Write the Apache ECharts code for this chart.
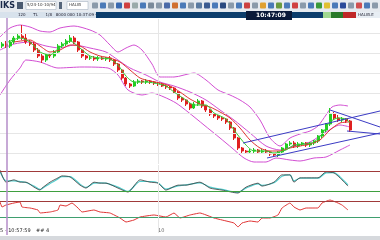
<!DOCTYPE html>
<html><head><meta charset="utf-8">
<script src="https://cdn.jsdelivr.net/npm/echarts/dist/echarts.min.js"></script>
<style>html,body{margin:0;padding:0;background:#fff}#c{width:380px;height:240px}</style>
</head><body><div id="c"></div>
<script>
// ---- data ----
const slotCount = 95;
const openP  = [124,126,124,128,132,134,132,128,126,120,114,110,115,114,118,124,126,129,132,128,120,114,112,112,111,112,111,112,110,106,100,92,86,84,88,89,88,89,88,87,86,84,83,82,78,72,70,66,62,66,69,64,60,56,54,52,51,48,42,32,22,19,18,19,20,18,19,18,16,15,18,22,26,27,24,26,27,25,27,29,34,40,46,56,52,50,51,49];
const closeP = [126,124,128,132,134,132,128,126,120,114,110,115,114,118,124,126,129,132,128,120,114,112,112,111,112,111,112,110,106,100,92,86,84,88,89,88,89,88,87,86,84,83,82,78,72,70,66,62,66,69,64,60,56,54,52,51,48,42,32,22,19,18,19,20,18,19,18,16,15,18,22,26,27,24,26,27,25,27,29,34,40,46,56,52,50,51,49,40];
const lowP   = [122,122,122,126,130,130,126,124,118,112,107,108,112,112,116,122,124,127,126,118,112,110,110,109,109,110,109,108,104,98,90,84,82,83,86,86,86,86,85,84,83,81,80,76,70,68,64,60,61,64,62,58,54,52,50,49,46,40,30,20,17,16,16,17,16,16,16,14,13,13,16,20,24,22,22,24,23,23,25,27,32,38,44,50,48,48,47,38];
const highP  = [128,129,130,134,137,145,136,130,128,122,116,117,117,120,126,128,131,135,134,129,121,115,114,114,114,114,113,114,111,107,101,93,87,90,91,90,91,90,89,88,87,85,84,83,79,73,71,67,68,71,70,65,61,57,55,53,52,49,43,33,23,20,21,22,21,21,21,19,17,19,23,27,29,29,28,28,28,28,30,35,41,47,62,58,55,53,52,50];

const upperBand = [[-0.5,133],[2,142],[4.5,145],[7,143],[9.5,139],[12,138],[14.5,142],[18,144],[22,140],[24.5,135],[27,125],[29,118],[31,122],[33,125],[35,120],[37.5,106],[39.5,93],[43,93],[48,97],[51,90],[54,80],[57,75],[59.5,70],[62,63],[64.5,50],[67,32],[69.5,24],[72,32],[74.5,36],[77,39],[79,44],[81,55],[82.5,63],[84.5,65],[86.5,64]];
const middleBand = [[-0.5,120],[3,126],[7,128],[11,124],[14.5,122],[18,125],[22,122],[26,118],[29,110],[32,102],[36,95],[39.5,88],[43,84],[47,78],[51,70],[54.5,60],[58,50],[62,37],[66,24],[69.5,20],[73,24],[77,28],[81,38],[84.5,45],[87,43]];
const lowerBand = [[-0.5,75],[2,90],[4.5,102],[6,110],[9.5,108],[14,102],[20,103],[26.5,102],[29,95],[31.5,80],[35,75],[37.5,77],[40.5,73],[43.5,67],[46.5,58],[50.5,45],[54.5,32],[57.5,22],[60.5,12],[63,8],[66,8],[68.5,12],[72,10],[74.5,9],[78,12],[81,13],[84.5,20],[87,25]];
const maFast = [[1.5,128],[4.5,132],[7,128],[9.5,118],[12,115],[14.5,123],[17,129],[19.5,122],[22,114],[24.5,112],[27,111],[29,105],[31,94],[33,88],[36,88],[38,87],[41,84],[43,78],[46,70],[48,65],[51,65],[53,57],[56,51],[58,40],[61,25],[63,19],[66,19],[68,17],[71,20],[73,25],[76,26],[78,28],[80,36],[82,48],[84,52],[86,51],[87,47]];
const maSlow = [[3,128],[7,130],[9.5,124],[12,118],[14.5,120],[17,125],[19.5,124],[22,118],[24.5,114],[27,112],[29.5,108],[32,100],[34.5,92],[37,89],[39.5,87],[42,84],[44.5,78],[47,71],[49.5,66],[52,63],[54.5,58],[57,52],[59.5,42],[62,30],[64.5,22],[67,19],[69.5,19],[72,22],[74.5,24],[77,26],[79.5,30],[82,40],[84.5,47],[87,48]];
const trendLines = [
  [[60.25,27],[94.5,59]],
  [[66.25,12],[94.5,37]],
  [[82,60],[94.5,43]],
  [[86.25,39],[94.5,36]]
];
const priceGridLevels = [137,117,97,77,57,37,17];
const timeGridIndex = 39;

const osc1Main = [[-0.5,85],[1,48],[3,55],[4.5,48],[6,48],[8,33],[9.5,24],[10,30],[12,48],[14,61],[15,67],[17,64],[19.5,39],[21,30],[23,48],[24.5,45],[26,45],[29,30],[31.5,18],[34.5,55],[37,48],[39,45],[41,24],[44,39],[46,39],[49.5,48],[52,30],[55,24],[59,15],[61,33],[64,45],[65,36],[68,48],[70,70],[72,70],[73,48],[74.5,61],[79,61],[81,79],[83,76],[84.5,61],[86.5,36]];
const osc1Signal = [[-0.5,80],[1,52],[3,52],[4.5,50],[6,47],[8,36],[9.5,26],[10,28],[12,44],[14,58],[15,65],[17,65],[19.5,42],[21,32],[23,45],[24.5,46],[26,45],[29,33],[31.5,20],[34.5,50],[37,50],[39,46],[41,27],[44,37],[46,40],[49.5,46],[52,33],[55,26],[59,17],[61,30],[64,43],[65,38],[68,46],[70,66],[72,70],[73,52],[74.5,60],[79,60],[81,76],[83,77],[84.5,64],[86.5,40]];
const osc1Levels = [80,20];
const osc2Line = [[-0.5,77.5],[0,65],[1,70],[3,75],[4.5,77.5],[5,65],[7,62.5],[9,57.5],[9.5,50],[12,52.5],[14,57.5],[14.5,70],[16,67.5],[17.5,75],[19,62.5],[20,52.5],[23,57.5],[24.5,52.5],[27,50],[29.5,37.5],[31,27.5],[33,32.5],[34.5,40],[38,45],[41,40],[43,50],[44.5,37.5],[47,45],[49.5,50],[53,37.5],[55,32.5],[58,25],[59,15],[60,25],[62,30],[64,27.5],[65,37.5],[67,37.5],[69,45],[70,62.5],[72,75],[73,65],[74.5,57.5],[76,62.5],[79,62.5],[80,75],[82,82.5],[84,75],[85,70],[86.5,57.5]];
const osc2Levels = [80,40];

const bottomLabels = ['5 - 10:57:59', '## 4', '10'];

// ---- chart ----
const candles = openP.map((o,i)=>[o, closeP[i], lowP[i], highP[i]]);
const cats = Array.from({length: slotCount}, (_, i) => String(i));
const chart = echarts.init(document.getElementById('c'), null, {renderer:'canvas'});

function lineS(data, color, xi, yi, extra){
  return Object.assign({type:'line', data, xAxisIndex:xi, yAxisIndex:yi, symbol:'none', smooth:0.25,
    lineStyle:{color, width:1}, silent:true, z:3}, extra||{});
}
const vx = (gi)=>({type:'value', gridIndex:gi, min:-0.5, max:slotCount-0.5, show:false});

const series = [
  {type:'line', data:[], xAxisIndex:1, yAxisIndex:0, silent:true, z:1,
   markLine:{silent:true, symbol:['none','none'], label:{show:false}, animation:false,
     lineStyle:{color:'#e6e6e6', width:1, type:'solid'},
     data: priceGridLevels.map(v=>({yAxis:v})).concat([{xAxis:timeGridIndex}])}},
  lineS(upperBand, '#d24fd2', 1, 0),
  lineS(middleBand, '#d24fd2', 1, 0),
  lineS(lowerBand, '#d24fd2', 1, 0),
  {type:'candlestick', data:candles, xAxisIndex:0, yAxisIndex:0, barWidth:2.5, z:4,
   itemStyle:{color:'#22cc22', color0:'#e02020', borderColor:'#22cc22', borderColor0:'#e02020', borderWidth:1}},
  lineS(maSlow, '#e03030', 1, 0, {z:5}),
  lineS(maFast, '#33cc33', 1, 0, {z:5}),
];
trendLines.forEach(t=>series.push(lineS(t, '#3b3bc4', 1, 0, {smooth:false, z:6})));

series.push(lineS(osc1Signal, '#55d0d0', 2, 1, {lineStyle:{color:'#55d0d0', width:1.2},
  markLine:{silent:true, symbol:['none','none'], label:{show:false}, animation:false,
    data:[{yAxis:osc1Levels[0], lineStyle:{color:'#a03a3a', width:1, type:'solid'}},
          {yAxis:osc1Levels[1], lineStyle:{color:'#3f9f3f', width:1, type:'solid'}},
          {xAxis:timeGridIndex, lineStyle:{color:'#e6e6e6', width:1, type:'solid'}}]}}));
series.push(lineS(osc1Main, '#3a3a3a', 2, 1, {smooth:0.2, lineStyle:{color:'#3a3a3a', width:0.8}}));
series.push(lineS(osc2Line, '#e03535', 3, 2, {smooth:0.1,
  markLine:{silent:true, symbol:['none','none'], label:{show:false}, animation:false,
    data:[{yAxis:osc2Levels[0], lineStyle:{color:'#a03a3a', width:1, type:'solid'}},
          {yAxis:osc2Levels[1], lineStyle:{color:'#3f9f6f', width:1, type:'solid'}},
          {xAxis:timeGridIndex, lineStyle:{color:'#e6e6e6', width:1, type:'solid'}}]}}));

// toolbar decoration
const iconColors = ['#8a9aaa','#4a7ab8','#8a9aaa','#3a6ab0','#d04040','#9aa','#4a7ab8','#7a8a9a','#8a9aaa','#4a6aa8','#d07030','#4a7ab8','#8a9aaa','#5a7aa0','#3a5a90','#4a7ab8','#2a4a80','#8a9aaa','#4a7ab8','#cc4040','#8a9aaa','#e0a030','#4a7ab8','#6a9a40','#4a7ab8','#d04040','#8a9aaa','#4a7ab8','#3a9a3a','#e0c030','#4a7ab8','#2a4a9a','#8a9aaa','#d05050','#4a7ab8','#8a9aaa'];
const graphics = [
  {type:'rect', shape:{x:0,y:0,width:380,height:12}, style:{fill:'#e6eaef'}, silent:true},
  {type:'text', x:0, y:2, style:{text:'IKS', fill:'#1a2a4a', font:'bold 8px "DejaVu Sans"'}},
  {type:'rect', shape:{x:17,y:2,width:6,height:7}, style:{fill:'#4a5a70'}},
  {type:'rect', shape:{x:26,y:1.5,width:30,height:8}, style:{fill:'#fff', stroke:'#9aa8b8', lineWidth:0.5}},
  {type:'text', x:27, y:3, style:{text:'5/24-10-10/94', fill:'#333', font:'4px "DejaVu Sans"'}},
  {type:'rect', shape:{x:59,y:2,width:3,height:7}, style:{fill:'#55657a'}},
  {type:'rect', shape:{x:67,y:1.5,width:21,height:8}, style:{fill:'#fff', stroke:'#9aa8b8', lineWidth:0.5}},
  {type:'text', x:69, y:3, style:{text:'HALIB', fill:'#333', font:'4px "DejaVu Sans"'}},
  {type:'rect', shape:{x:0,y:12,width:96,height:6}, style:{fill:'#d8e2ec'}},
  {type:'text', x:18, y:12.5, style:{text:'120      TL      1/8   8000 000 10:37:09 ▾', fill:'#223', font:'4px "DejaVu Sans"'}},
  {type:'rect', shape:{x:96,y:12,width:284,height:6}, style:{fill:'#0c3d6c'}},
  {type:'rect', shape:{x:246,y:11,width:46,height:9}, style:{fill:'#0a1a3a'}},
  {type:'text', x:256, y:12, style:{text:'10:47:09', fill:'#fff', font:'bold 6px "DejaVu Sans"'}},
  {type:'rect', shape:{x:323,y:12,width:8,height:6}, style:{fill:'#a0d890'}},
  {type:'rect', shape:{x:331,y:12,width:12,height:6}, style:{fill:'#2a7a2a'}},
  {type:'rect', shape:{x:343,y:12,width:13,height:6}, style:{fill:'#c02828'}},
  {type:'rect', shape:{x:356,y:12,width:24,height:6}, style:{fill:'#e8eef4'}},
  {type:'text', x:358, y:13, style:{text:'HALIB.E', fill:'#223', font:'4px "DejaVu Sans"'}},
  {type:'line', shape:{x1:7,y1:18,x2:7,y2:235}, style:{stroke:'#b58cc8', lineWidth:1.5}, z:50},
  {type:'rect', shape:{x:0,y:236,width:380,height:4}, style:{fill:'#d6d9dd'}},
  {type:'text', x:0, y:228, style:{text:bottomLabels[0], fill:'#222', font:'5px "DejaVu Sans"'}},
  {type:'text', x:36, y:228, style:{text:bottomLabels[1], fill:'#222', font:'5px "DejaVu Sans"'}},
  {type:'text', x:158, y:228, style:{text:bottomLabels[2], fill:'#666', font:'5px "DejaVu Sans"'}}
];
iconColors.forEach((c,i)=>{
  graphics.push({type:'rect', shape:{x:92+i*8, y:2.5, width:6, height:6, r:1}, style:{fill:c}});
});

chart.setOption({
  animation:false,
  backgroundColor:'#ffffff',
  grid:[
    {left:0, right:0, top:19, height:145},
    {left:0, right:0, top:165, height:33},
    {left:0, right:0, top:193, height:40}
  ],
  xAxis:[
    {type:'category', gridIndex:0, data:cats, show:false, boundaryGap:true},
    vx(0), vx(1), vx(2)
  ],
  yAxis:[
    {type:'value', gridIndex:0, min:6, max:151, show:false},
    {type:'value', gridIndex:1, min:0, max:100, show:false},
    {type:'value', gridIndex:2, min:0, max:100, show:false}
  ],
  series,
  graphic: graphics
});
</script></body></html>
